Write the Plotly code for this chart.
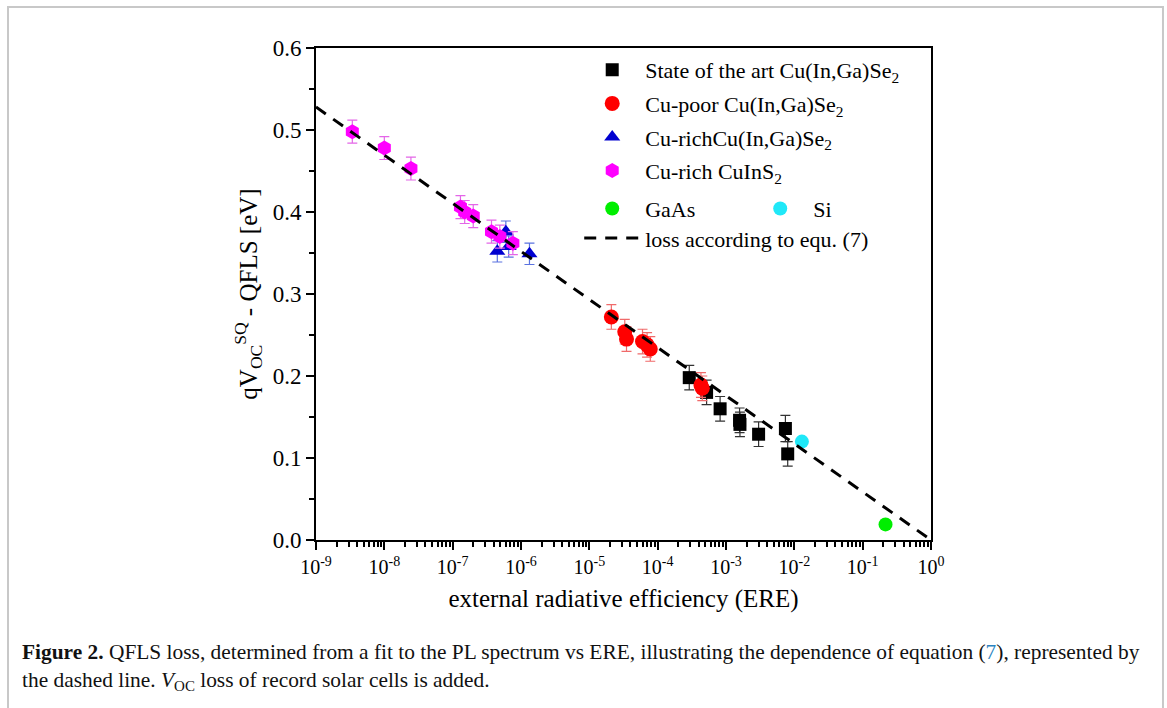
import plotly.graph_objects as go

# ---- data ----
sota_x = [2.9e-4, 5.2e-4, 8.2e-4, 1.58e-3, 1.6e-3, 3.0e-3, 7.4e-3, 8.0e-3]
sota_y = [0.198, 0.180, 0.160, 0.146, 0.141, 0.129, 0.136, 0.105]
sota_err = [0.015, 0.015, 0.015, 0.015, 0.015, 0.015, 0.016, 0.015]

cupoor_x = [2.1e-5, 3.3e-5, 3.5e-5, 6.0e-5, 7.0e-5, 7.8e-5, 4.3e-4, 4.5e-4]
cupoor_y = [0.272, 0.254, 0.245, 0.242, 0.238, 0.233, 0.189, 0.185]
cupoor_err = [0.015, 0.015, 0.015, 0.015, 0.015, 0.015, 0.015, 0.015]

curich_cigs_x = [4.5e-7, 6.0e-7, 6.6e-7, 1.33e-6]
curich_cigs_y = [0.352, 0.376, 0.358, 0.349]
curich_cigs_err = [0.013, 0.013, 0.013, 0.013]

cis_x = [3.4e-9, 1.0e-8, 2.45e-8, 1.3e-7, 1.5e-7, 2.0e-7, 3.7e-7, 4.9e-7, 7.6e-7]
cis_y = [0.498, 0.478, 0.453, 0.406, 0.400, 0.395, 0.376, 0.370, 0.362]
cis_err = [0.014, 0.014, 0.014, 0.014, 0.014, 0.014, 0.014, 0.014, 0.014]

gaas_x = [0.216]
gaas_y = [0.019]
si_x = [1.29e-2]
si_y = [0.120]

loss_x = [1e-9, 1.0]
loss_y = [0.528, 0.0]

x_tickvals = [1e-9, 1e-8, 1e-7, 1e-6, 1e-5, 1e-4, 1e-3, 1e-2, 1e-1, 1e0]
x_ticktext = ["10<sup>-9</sup>", "10<sup>-8</sup>", "10<sup>-7</sup>", "10<sup>-6</sup>",
              "10<sup>-5</sup>", "10<sup>-4</sup>", "10<sup>-3</sup>", "10<sup>-2</sup>",
              "10<sup>-1</sup>", "10<sup>0</sup>"]

SERIF = "Liberation Serif"
LEG_FONT = 22

fig = go.Figure()

def scatter_err(x, y, err, name, symbol, color, ecolor, size, group):
    return go.Scatter(
        x=x, y=y, mode="markers", name=name, legendgroup=group,
        marker=dict(symbol=symbol, color=color, size=size, line=dict(width=0)),
        error_y=dict(type="data", array=err, visible=True, color=ecolor,
                     thickness=1.2, width=5),
        legend="legend",
    )

fig.add_trace(scatter_err(sota_x, sota_y, sota_err, "State of the art Cu(In,Ga)Se<sub>2</sub>",
                          "square", "#000000", "#333333", 13, "g1"))
fig.add_trace(scatter_err(cupoor_x, cupoor_y, cupoor_err, "Cu-poor Cu(In,Ga)Se<sub>2</sub>",
                          "circle", "#ff0000", "#f06a6a", 15, "g2"))
fig.add_trace(scatter_err(curich_cigs_x, curich_cigs_y, curich_cigs_err,
                          "Cu-richCu(In,Ga)Se<sub>2</sub>", "triangle-up",
                          "#0000d0", "#5a72e0", 14, "g3"))
fig.add_trace(scatter_err(cis_x, cis_y, cis_err, "Cu-rich CuInS<sub>2</sub>",
                          "hexagon", "#ff00ff", "#e466e8", 15, "g4"))

fig.add_trace(go.Scatter(x=gaas_x, y=gaas_y, mode="markers", name="GaAs",
                         marker=dict(symbol="circle", color="#00ee00", size=14),
                         legend="legend2"))
fig.add_trace(go.Scatter(x=si_x, y=si_y, mode="markers", name="Si",
                         marker=dict(symbol="circle", color="#20e8f8", size=14),
                         legend="legend2"))
fig.add_trace(go.Scatter(x=loss_x, y=loss_y, mode="lines",
                         name="loss according to equ. (7)",
                         line=dict(color="black", width=3, dash="12px,9px"),
                         legend="legend3"))

fig.update_layout(
    width=1167, height=708,
    paper_bgcolor="white", plot_bgcolor="white",
    margin=dict(l=316, r=236, t=48, b=168),
    font=dict(family=SERIF, size=18, color="black"),
    showlegend=True,
    legend=dict(x=0.428, y=0.998, xanchor="left", yanchor="top",
                bgcolor="rgba(0,0,0,0)", traceorder="grouped",
                tracegroupgap=2, itemwidth=56,
                font=dict(family=SERIF, size=LEG_FONT)),
    legend2=dict(x=0.428, y=0.716, xanchor="left", yanchor="top",
                 orientation="h", entrywidth=97, itemwidth=56,
                 bgcolor="rgba(0,0,0,0)",
                 font=dict(family=SERIF, size=LEG_FONT)),
    legend3=dict(x=0.428, y=0.656, xanchor="left", yanchor="top",
                 itemwidth=56, bgcolor="rgba(0,0,0,0)",
                 font=dict(family=SERIF, size=LEG_FONT)),
    xaxis=dict(
        type="log", range=[-9, 0],
        tickmode="array", tickvals=x_tickvals, ticktext=x_ticktext,
        ticks="outside", ticklen=8, tickwidth=2, tickcolor="black",
        showline=True, linewidth=2, linecolor="black", mirror=True,
        showgrid=False, zeroline=False,
        tickfont=dict(family=SERIF, size=20),
        minor=dict(ticks="outside", ticklen=5, tickwidth=1.5, tickcolor="black",
                   dtick="D1", showgrid=False),
        title=dict(text="external radiative efficiency (ERE)",
                   font=dict(family=SERIF, size=25), standoff=12),
    ),
    yaxis=dict(
        range=[0, 0.6], dtick=0.1, tickformat=".1f",
        ticks="outside", ticklen=8, tickwidth=2, tickcolor="black",
        showline=True, linewidth=2, linecolor="black", mirror=True,
        showgrid=False, zeroline=False,
        tickfont=dict(family=SERIF, size=23),
        minor=dict(ticks="outside", ticklen=5, tickwidth=1.5, tickcolor="black",
                   dtick=0.05, showgrid=False),
        title=dict(text="qV<sub>OC</sub><sup>SQ</sup> - QFLS [eV]",
                   font=dict(family=SERIF, size=25), standoff=8),
    ),
)

# outer frame of the figure panel
fig.add_shape(type="rect", xref="paper", yref="paper",
              x0=-0.5008, x1=1.3772, y0=-0.40, y1=1.0833,
              line=dict(color="#c8c8c8", width=2), fillcolor="rgba(0,0,0,0)",
              layer="below")

caption = ("<b>Figure 2.</b> QFLS loss, determined from a fit to the PL spectrum vs ERE, "
           "illustrating the dependence of equation (<span style='color:#2a83c0'>7</span>), "
           "represented by<br>the dashed line. <i>V</i><sub>OC</sub> loss of record solar cells is added.")
fig.add_annotation(text=caption, xref="paper", yref="paper",
                   x=-0.4813, y=-0.2, xanchor="left", yanchor="top",
                   align="left", showarrow=False,
                   font=dict(family=SERIF, size=21.4, color="#111111"))

fig.write_html("out.html", config={"displayModeBar": False},
               post_script="document.body.style.margin='0';")
